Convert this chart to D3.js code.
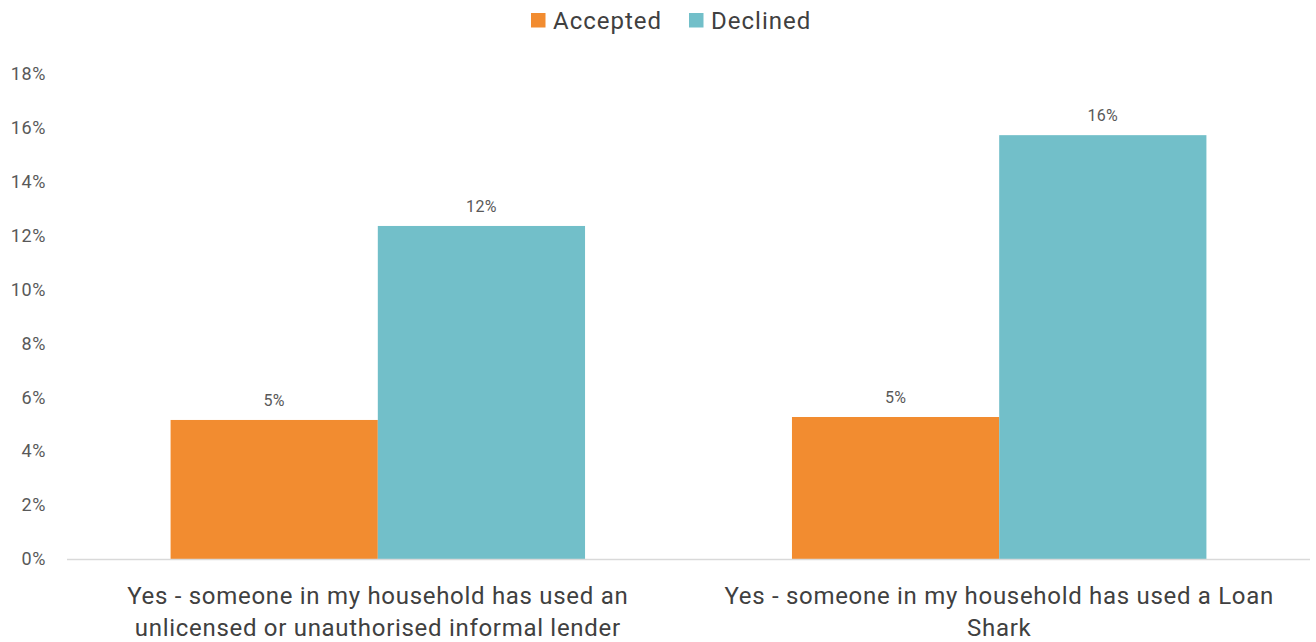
<!DOCTYPE html>
<html>
<head>
<meta charset="utf-8">
<script src="https://cdn.jsdelivr.net/npm/d3@7"></script>
<style>
  html, body { margin: 0; padding: 0; background: #fff; }
  svg { display: block; font-family: Roboto, "Noto Sans", sans-serif; }
</style>
</head>
<body>
<svg id="chart" width="1316" height="642"></svg>
<script>
// Share of respondents, by loan decision outcome
const categories = [
  ["Yes - someone in my household has used an", "unlicensed or unauthorised informal lender"],
  ["Yes - someone in my household has used a Loan", "Shark"]
];
const seriesNames = ["Accepted", "Declined"];
const accepted = [0.0516, 0.0527];
const declined = [0.1236, 0.1573];
const yTicks = [0, 0.02, 0.04, 0.06, 0.08, 0.10, 0.12, 0.14, 0.16, 0.18];

const colors = { Accepted: "#F28C30", Declined: "#72BFC9" };
const textColor = "#404040";

const svg = d3.select("#chart");
const W = 1316, H = 642;
const margin = { top: 74, right: 6, bottom: 83, left: 67 };
const innerW = W - margin.left - margin.right;
const innerH = H - margin.top - margin.bottom;

const g = svg.append("g").attr("transform", `translate(${margin.left},${margin.top})`);

const x0 = d3.scaleBand()
  .domain(d3.range(categories.length))
  .range([0, innerW])
  .paddingInner(0.333)
  .paddingOuter(0.1667);

const x1 = d3.scaleBand()
  .domain(seriesNames)
  .range([0, x0.bandwidth()])
  .padding(0);

const y = d3.scaleLinear().domain([0, 0.18]).range([innerH, 0]);

// y axis labels (no axis line)
const yAxis = g.append("g")
  .call(d3.axisLeft(y).tickValues(yTicks).tickFormat(d3.format(".0%")).tickSize(0).tickPadding(0));
yAxis.select(".domain").remove();
yAxis.selectAll("text")
  .attr("x", -21)
  .attr("text-anchor", "end")
  .style("font-size", "18px")
  .style("letter-spacing", "0.6px")
  .style("font-family", "Roboto, sans-serif")
  .attr("fill", "#595959");

// bars
const rows = categories.map((c, i) => ({ i, values: [
  { key: "Accepted", value: accepted[i] },
  { key: "Declined", value: declined[i] }
]}));

const groups = g.selectAll(".grp").data(rows).join("g")
  .attr("class", "grp")
  .attr("transform", d => `translate(${x0(d.i)},0)`);

groups.selectAll("rect").data(d => d.values).join("rect")
  .attr("x", d => x1(d.key))
  .attr("y", d => y(d.value))
  .attr("width", x1.bandwidth())
  .attr("height", d => innerH - y(d.value))
  .attr("fill", d => colors[d.key]);

groups.selectAll(".lbl").data(d => d.values).join("text")
  .attr("class", "lbl")
  .attr("x", d => x1(d.key) + x1.bandwidth() / 2)
  .attr("y", d => y(d.value) - 14)
  .attr("text-anchor", "middle")
  .style("font-size", "16px")
  .style("letter-spacing", "0.3px")
  .attr("fill", "#595959")
  .text(d => d3.format(".0%")(d.value));

// baseline
g.append("line")
  .attr("x1", 0).attr("x2", innerW)
  .attr("y1", innerH + 0.5).attr("y2", innerH + 0.5)
  .attr("stroke", "#D9D9D9").attr("stroke-width", 1.5);

// category labels
const xl = g.append("g");
categories.forEach((lines, i) => {
  const cx = x0(i) + x0.bandwidth() / 2;
  const t = xl.append("text")
    .attr("x", cx)
    .attr("y", innerH + 45)
    .attr("text-anchor", "middle")
    .style("font-size", "24px")
    .style("letter-spacing", "0.7px")
    .attr("fill", textColor);
  lines.forEach((ln, k) => {
    t.append("tspan")
      .attr("x", cx)
      .attr("dy", k === 0 ? 0 : 32)
      .text(ln);
  });
});

// legend
const legend = svg.append("g").attr("transform", "translate(531,0)");
const legendItems = [{ key: "Accepted", x: 0 }, { key: "Declined", x: 158 }];
legendItems.forEach(it => {
  legend.append("rect")
    .attr("x", it.x).attr("y", 13)
    .attr("width", 14.5).attr("height", 14.5)
    .attr("fill", colors[it.key]);
  legend.append("text")
    .attr("x", it.x + 22).attr("y", 29)
    .style("font-size", "24px")
    .style("letter-spacing", "1px")
    .attr("fill", textColor)
    .text(it.key);
});
</script>
</body>
</html>
